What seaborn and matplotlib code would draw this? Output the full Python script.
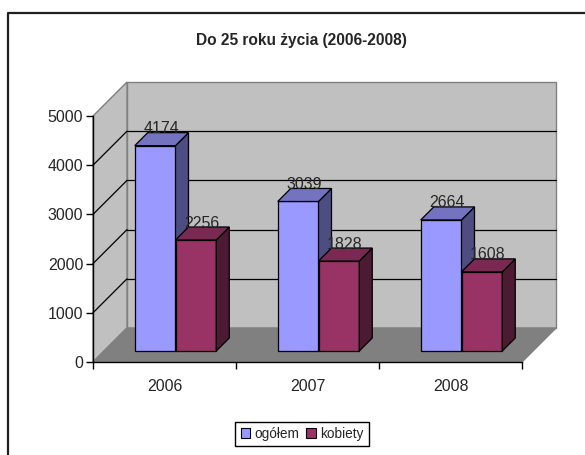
import numpy as np
import pandas as pd
import matplotlib
matplotlib.use("Agg")
import matplotlib.pyplot as plt
import seaborn as sns
from matplotlib.patches import Polygon, Rectangle, Patch
from matplotlib.transforms import ScaledTranslation

years = ["2006", "2007", "2008"]
ogolem = [4174, 3039, 2664]
kobiety = [2256, 1828, 1608]
series = ["ogółem", "kobiety"]
front_cols = ["#9999FF", "#993366"]
top_cols = ["#7373C0", "#7A2952"]
side_cols = ["#4D4D82", "#4D1A33"]
yticks = [0, 1000, 2000, 3000, 4000, 5000]

df = pd.DataFrame({
    "rok": years * 2,
    "liczba": ogolem + kobiety,
    "grupa": [series[0]] * 3 + [series[1]] * 3,
})

sns.set_style("white")
plt.rcParams["font.family"] = ["Liberation Sans", "DejaVu Sans"]

fig = plt.figure(figsize=(5.85, 4.55), dpi=100)
ax = fig.add_axes([93 / 585, 93 / 455, 429 / 585, 246 / 455])

sns.barplot(data=df, x="rok", y="liczba", hue="grupa", palette=front_cols,
            width=0.57, edgecolor="black", linewidth=0.9, saturation=1,
            legend=False, ax=ax, zorder=5)
ax.set_xlim(-0.5, 2.5)
ax.set_ylim(0, 5000)

# pixel -> data scale
sx = 3 / 429
sy = 5000 / 246


def shift(dx, dy):
    return ax.transData + ScaledTranslation(dx / 100, dy / 100, fig.dpi_scale_trans)


# walls and floor (depth 34 px)
D = 34
x0, x1 = -0.5, 2.5
ax.add_patch(Rectangle((x0, 0), 3, 5000, transform=shift(D, D), facecolor="#C0C0C0",
                       edgecolor="#808080", lw=1, clip_on=False, zorder=0))
ax.add_patch(Polygon([(x0, 0), (x0 + D * sx, D * sy), (x0 + D * sx, 5000 + D * sy), (x0, 5000)],
                     facecolor="#C0C0C0", edgecolor="#808080", lw=1, clip_on=False, zorder=0.5))
ax.add_patch(Polygon([(x0, 0), (x1, 0), (x1 + D * sx, D * sy), (x0 + D * sx, D * sy)],
                     facecolor="#808080", edgecolor="#808080", lw=1, clip_on=False, zorder=1))
for v in yticks[1:-1]:
    ax.plot([x0, x1], [v, v], color="black", lw=0.9, transform=shift(D, D),
            clip_on=False, zorder=1.5)
    ax.plot([x0, x0 + D * sx], [v, v + D * sy], color="black", lw=0.9,
            clip_on=False, zorder=1.5)

# 3d bars: front faces shifted into the floor, plus side and top faces
B = 11
d = 13
for i, cont in enumerate(ax.containers):
    for bar in cont:
        x = bar.get_x()
        w = bar.get_width()
        h = bar.get_height()
        bar.set_transform(shift(B, B))
        bar.set_clip_on(False)
        bar.set_zorder(5 + i)
        side = Polygon([(x + w, 0), (x + w + d * sx, d * sy), (x + w + d * sx, h + d * sy), (x + w, h)],
                       facecolor=side_cols[i], edgecolor="black", lw=0.9,
                       transform=shift(B, B), clip_on=False, zorder=5 + i)
        top = Polygon([(x, h), (x + w, h), (x + w + d * sx, h + d * sy), (x + d * sx, h + d * sy)],
                      facecolor=top_cols[i], edgecolor="black", lw=0.9,
                      transform=shift(B, B), clip_on=False, zorder=5 + i)
        ax.add_patch(side)
        ax.add_patch(top)
        ax.text(x + w / 2, h, f"{int(h)}", transform=shift(B + 6, B + 17),
                ha="center", va="center", fontsize=11.5, zorder=10)

# axes styling
for s in ["top", "right"]:
    ax.spines[s].set_visible(False)
for s in ["left", "bottom"]:
    ax.spines[s].set_color("black")
    ax.spines[s].set_linewidth(1)
    ax.spines[s].set_zorder(4)
ax.set_yticks(yticks)
ax.set_yticklabels([str(v) for v in yticks])
ax.set_xticks(range(3))
ax.set_xticklabels(years)
ax.set_xticks([-0.5, 0.5, 1.5, 2.5], minor=True)
ax.tick_params(axis="y", direction="out", length=5, width=1, color="black",
               labelsize=11.5, pad=2, left=True)
ax.tick_params(axis="x", which="major", length=0, labelsize=11.5, pad=12)
ax.tick_params(axis="x", which="minor", direction="out", length=5, width=1,
               color="black", bottom=True)
ax.set_xlabel("")
ax.set_ylabel("")
ax.patch.set_visible(False)

fig.text(0.516, 1 - 40 / 455, "Do 25 roku życia (2006-2008)", ha="center", va="center",
         fontsize=11.2, fontweight="bold")

handles = [Patch(facecolor=front_cols[k], edgecolor="black", lw=0.8, label=series[k]) for k in range(2)]
fig.legend(handles=handles, loc="center", bbox_to_anchor=(302 / 585, 1 - 434 / 455), ncol=2,
           fontsize=9.8, frameon=True, fancybox=False, edgecolor="black", framealpha=1,
           handlelength=0.7, handleheight=0.7, handletextpad=0.3, columnspacing=0.5,
           borderpad=0.4, borderaxespad=0)

# outer chart frame
fig.add_artist(plt.Line2D([8 / 585, 8 / 585, 1], [0, 1 - 13 / 455, 1 - 13 / 455],
                          color="#202020", lw=1.6, transform=fig.transFigure))

fig.savefig("out.png", dpi=100)
